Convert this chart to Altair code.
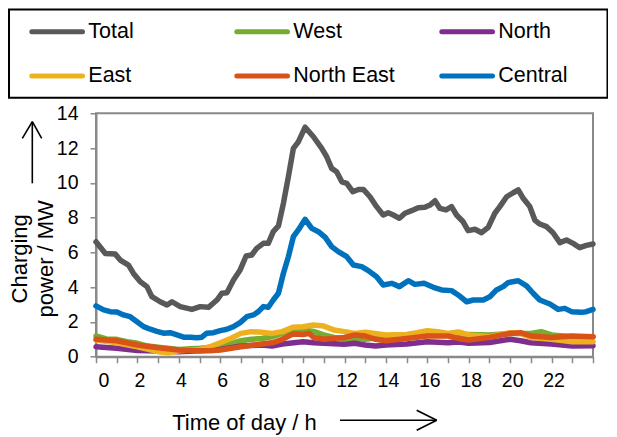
import altair as alt
import pandas as pd

series_names = ["Total", "West", "North", "East", "North East", "Central"]
series_colors = ["#595959", "#77AC30", "#7E2F8E", "#EDB120", "#D95319", "#0072BD"]
legend_col = [0, 1, 2, 0, 1, 2]
legend_row = [0, 0, 0, 1, 1, 1]

total_h = [0, 0.45, 0.93, 1.17, 1.57, 1.81, 2.14, 2.46, 2.7, 3.1,
           3.43, 3.67, 4.07, 4.63, 5.03, 5.43, 5.84, 6.08, 6.32, 6.64,
           6.96, 7.25, 7.52, 7.76, 8.08, 8.32, 8.56, 8.81, 9.05, 9.29,
           9.53, 9.77, 10.1, 10.5, 10.9, 11.14, 11.38, 11.62, 11.87, 12.11,
           12.4, 12.67, 12.91, 13.23, 13.55, 13.87, 14.11, 14.36, 14.65, 14.92,
           15.24, 15.56, 15.88, 16.13, 16.37, 16.61, 16.9, 17.17, 17.41, 17.73,
           17.97, 18.3, 18.62, 18.94, 19.26, 19.5, 19.83, 20.15, 20.39, 20.63,
           20.95, 21.19, 21.43, 21.76, 22.07, 22.4, 22.72, 23.04, 23.36, 23.68, 24]
total_mw = [6.61, 5.94, 5.9, 5.56, 5.27, 4.79, 4.31, 4.03, 3.45, 3.16,
            2.97, 3.16, 2.88, 2.72, 2.88, 2.84, 3.26, 3.65, 3.68, 4.41,
            4.99, 5.79, 5.85, 6.23, 6.52, 6.52, 7.19, 7.52, 8.82, 10.35,
            11.98, 12.36, 13.2, 12.65, 11.98, 11.5, 10.83, 10.64, 10.06, 9.97,
            9.49, 9.62, 9.62, 9.2, 8.63, 8.15, 8.28, 8.15, 7.96, 8.25,
            8.4, 8.57, 8.59, 8.72, 8.97, 8.53, 8.44, 8.63, 8.15, 7.76,
            7.25, 7.33, 7.13, 7.44, 8.25, 8.63, 9.2, 9.43, 9.59, 9.11,
            8.63, 7.86, 7.63, 7.48, 7.13, 6.56, 6.71, 6.52, 6.27, 6.4, 6.48]

west_h = [0, 0.5, 1, 1.5, 2, 2.5, 3, 4, 5, 6,
          7, 7.5, 8, 8.5, 9, 9.5, 10, 10.5, 11, 11.5,
          12, 12.5, 13, 14, 15, 16, 17, 18, 19, 20,
          21, 21.5, 22, 23, 24]
west_mw = [1.19, 1.02, 1.0, 0.86, 0.77, 0.61, 0.54, 0.42, 0.48, 0.57,
           0.92, 1.0, 1.05, 1.15, 1.34, 1.5, 1.55, 1.45, 1.25, 1.11,
           1.02, 1.06, 1.0, 1.15, 1.25, 1.38, 1.25, 1.28, 1.25, 1.34,
           1.34, 1.44, 1.25, 1.15, 1.15]

north_h = [0, 1, 2, 3, 4, 5, 6, 7, 8, 8.5,
           9, 10, 10.5, 11, 12, 12.5, 13, 13.5, 14, 15,
           16, 17, 17.5, 18, 19, 20, 20.5, 21, 22, 23, 24]
north_mw = [0.57, 0.48, 0.36, 0.33, 0.29, 0.34, 0.42, 0.61, 0.67, 0.61,
            0.73, 0.86, 0.8, 0.77, 0.71, 0.77, 0.67, 0.61, 0.67, 0.73,
            0.86, 0.8, 0.84, 0.77, 0.82, 1.0, 0.92, 0.8, 0.73, 0.61, 0.63]

east_h = [0, 1, 2, 3, 3.5, 4, 5, 5.5, 6, 6.5,
          7, 7.5, 8, 8.5, 9, 9.5, 10, 10.5, 11, 11.5,
          12, 12.5, 13, 14, 15, 15.5, 16, 16.5, 17, 17.5,
          18, 19, 20, 20.5, 21, 22, 23, 24]
east_mw = [0.96, 0.8, 0.57, 0.29, 0.23, 0.34, 0.42, 0.57, 0.8, 1.05,
           1.34, 1.44, 1.4, 1.34, 1.44, 1.69, 1.72, 1.82, 1.76, 1.53,
           1.44, 1.34, 1.4, 1.25, 1.28, 1.38, 1.5, 1.44, 1.34, 1.42,
           1.25, 1.15, 1.38, 1.34, 1.11, 1.0, 0.86, 0.86]

northeast_h = [0, 1, 2, 3, 4, 5, 5.5, 6, 7, 8,
               8.5, 9, 9.5, 10, 10.3, 10.5, 11, 12, 12.5, 13,
               13.5, 14, 15, 16, 17, 17.5, 18, 19, 20, 20.5,
               21, 22, 23, 24]
northeast_mw = [1.0, 0.92, 0.67, 0.52, 0.38, 0.34, 0.34, 0.38, 0.57, 0.73,
                0.8, 1.0, 1.3, 1.28, 1.34, 1.11, 1.0, 1.11, 1.25, 1.19,
                1.0, 0.92, 1.05, 1.19, 1.19, 1.05, 0.96, 1.11, 1.34, 1.38,
                1.19, 1.11, 1.19, 1.15]

central_h = [0, 0.37, 0.69, 1.01, 1.33, 1.65, 1.98, 2.3, 2.62, 2.94,
             3.26, 3.58, 3.91, 4.23, 4.55, 4.87, 5.11, 5.35, 5.67, 6.0,
             6.32, 6.64, 6.96, 7.28, 7.6, 7.84, 8.08, 8.32, 8.56, 8.81,
             9.05, 9.29, 9.53, 9.77, 10.1, 10.42, 10.74, 11.07, 11.38, 11.7,
             12.11, 12.43, 12.83, 13.15, 13.55, 13.87, 14.28, 14.65, 15.08, 15.4,
             15.84, 16.29, 16.69, 17.17, 17.49, 17.9, 18.22, 18.7, 19.02, 19.34,
             19.66, 19.9, 20.39, 20.79, 21.11, 21.43, 21.92, 22.32, 22.64, 22.96,
             23.44, 23.68, 24]
central_mw = [2.92, 2.69, 2.59, 2.57, 2.4, 2.3, 2.01, 1.73, 1.58, 1.46,
              1.35, 1.38, 1.25, 1.12, 1.12, 1.09, 1.12, 1.35, 1.38, 1.5,
              1.58, 1.73, 1.96, 2.3, 2.4, 2.59, 2.88, 2.84, 3.26, 3.65,
              4.8, 5.75, 6.9, 7.29, 7.9, 7.38, 7.19, 6.86, 6.33, 6.04,
              5.75, 5.27, 5.18, 4.95, 4.6, 4.12, 4.22, 4.03, 4.37, 4.16,
              4.22, 3.99, 3.84, 3.8, 3.55, 3.16, 3.26, 3.26, 3.45, 3.84,
              4.03, 4.26, 4.37, 4.07, 3.65, 3.26, 3.03, 2.72, 2.78, 2.59,
              2.55, 2.59, 2.72]

y_ticks = [0, 2, 4, 6, 8, 10, 12, 14]
x_ticks = list(range(0, 25))

series_data = [
    ("Total", total_h, total_mw),
    ("West", west_h, west_mw),
    ("North", north_h, north_mw),
    ("East", east_h, east_mw),
    ("North East", northeast_h, northeast_mw),
    ("Central", central_h, central_mw),
]
rows = []
for name, hs, vs in series_data:
    assert len(hs) == len(vs), name
    for h, v in zip(hs, vs):
        rows.append({"hour": h, "mw": v, "series": name})
df = pd.DataFrame(rows)
legend_df = pd.DataFrame({"series": series_names, "col": legend_col, "row": legend_row})
one = pd.DataFrame({"a": [0]})

FONT = "Liberation Sans"
color_scale = alt.Scale(domain=series_names, range=series_colors)

lines = alt.Chart(df).mark_line(
    strokeWidth=5.5, strokeJoin="round", strokeCap="round"
).encode(
    x=alt.X("hour:Q", scale=alt.Scale(domain=[0, 24], nice=False, zero=False),
            axis=alt.Axis(values=x_ticks, title="Time of day / h",
                          labelExpr="(datum.value % 2 == 0 && datum.value < 24) ? datum.label : ''",
                          tickSize=6, labelPadding=9, labelOffset=2,
                          labelFontSize=19.5, titleFontSize=22,
                          titleX=148, titleY=72.5, titleAlign="center",
                          titleBaseline="alphabetic")),
    y=alt.Y("mw:Q", scale=alt.Scale(domain=[0, 14], nice=False),
            axis=alt.Axis(values=y_ticks, title=["Charging", "power / MW"],
                          tickSize=6, labelPadding=12, labelFontSize=19.5,
                          titleFontSize=22, titleAngle=270, titleX=-77, titleY=145,
                          titleAlign="center", titleBaseline="middle",
                          titleLineHeight=27)),
    color=alt.Color("series:N", scale=color_scale, legend=None),
)

# legend (drawn with its own scales: column / row index)
leg_x = alt.X("col:Q", scale=alt.Scale(domain=[0, 3], range=[-64.2, 550.8]), axis=None)
leg_y = alt.Y("row:Q", scale=alt.Scale(domain=[0, 1], range=[-81.6, -37.3]), axis=None)
leg_symbols = alt.Chart(legend_df).mark_rule(
    strokeWidth=5, strokeCap="round", x2Offset=50.7
).encode(
    x=leg_x, x2=alt.X2("col"), y=leg_y,
    color=alt.Color("series:N", scale=color_scale, legend=None),
)
leg_labels = alt.Chart(legend_df).mark_text(
    align="left", baseline="middle", dx=56.5, fontSize=21.5, font=FONT, color="black"
).encode(x=leg_x, y=leg_y, text="series:N")
leg_box = alt.Chart(one).mark_rect(
    fillOpacity=0, stroke="black", strokeWidth=2
).encode(x=alt.value(-87), x2=alt.value(511.5), y=alt.value(-103.8), y2=alt.value(-15.6))

def seg(x1, y1, x2, y2):
    return alt.Chart(one).mark_rule(color="black", strokeWidth=1.6).encode(
        x=alt.value(x1), y=alt.value(y1), x2=alt.value(x2), y2=alt.value(y2))

arrows = [
    seg(-63.7, 8.4, -63.7, 70),
    seg(-63.7, 8.4, -73.7, 25),
    seg(-63.7, 8.4, -54.3, 25),
    seg(244, 307, 340.7, 307),
    seg(340.7, 307, 320.7, 297),
    seg(340.7, 307, 320.7, 317),
]

chart = alt.layer(lines, leg_box, leg_symbols, leg_labels, *arrows).resolve_scale(
    x="independent", y="independent"
).properties(
    width=497, height=243.4,
    autosize=alt.AutoSizeParams(type="none"),
    padding={"left": 88, "top": 105.3, "right": 15, "bottom": 78},
).configure_view(
    stroke="#898989", strokeWidth=2
).configure_axis(
    grid=False, domainColor="#898989", domainWidth=2,
    tickColor="#898989", tickWidth=1.5,
    labelFont=FONT, titleFont=FONT, labelColor="black", titleColor="black",
    titleFontWeight="normal"
)

chart.save("out.html", embed_options={"renderer": "svg", "actions": False})
